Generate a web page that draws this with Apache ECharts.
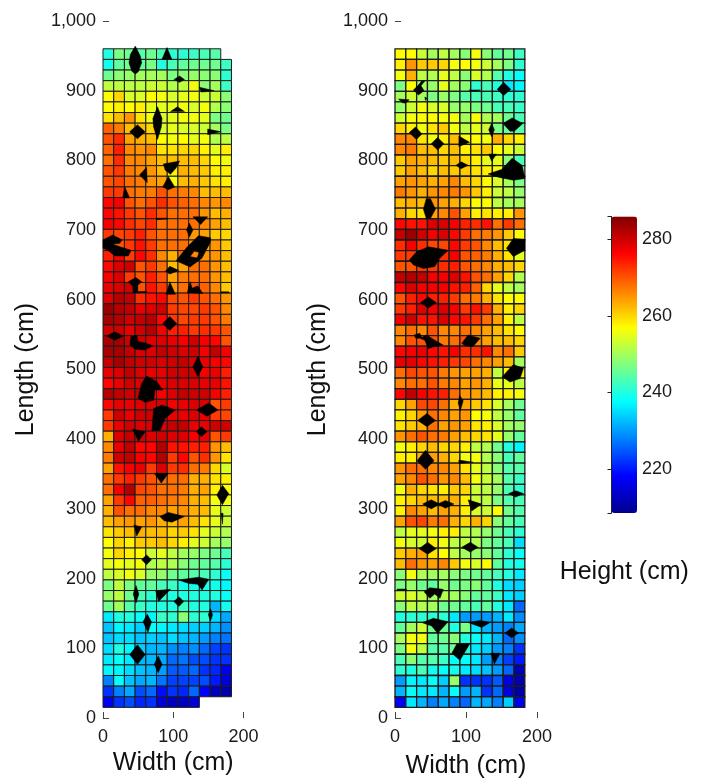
<!DOCTYPE html>
<html><head><meta charset="utf-8">
<style>html,body{margin:0;padding:0;background:#fff}#c{width:705px;height:784px}</style>
<script src="https://cdn.jsdelivr.net/npm/echarts@6/dist/echarts.min.js"></script>
</head><body><div id="c"></div>
<script>
const cellCm = 15.24;
const tickLabelsHeight = [220, 240, 260, 280];
const heightMin = 208.5, heightMax = 286;
const jetColors = ['#00008f','#0000ff','#0080ff','#00ffff','#80ff80','#ffff00','#ff8000','#ff0000','#800000'];

// heights, rows listed from the far end (top) to the near end (bottom), 12 columns
const leftHeights = [
[240,247,246,244,246,243,241,241,242,243,244,null],
[239,245,246,245,247,240,243,245,246,246,246,242],
[246,248,249,250,250,250,247,248,249,248,248,241],
[252,252,252,252,253,253,251,252,256,248,250,242],
[257,260,254,254,257,256,254,255,256,253,253,248],
[257,258,257,258,255,255,255,256,254,256,251,248],
[259,262,265,259,256,254,255,256,256,255,247,246],
[269,267,262,262,260,254,255,254,254,253,250,247],
[270,273,264,263,262,257,256,257,255,256,251,252],
[269,274,266,265,266,259,259,260,260,258,255,258],
[268,273,266,266,264,262,262,262,262,260,257,256],
[270,272,267,266,265,262,258,263,262,261,258,258],
[270,271,268,267,265,264,256,262,263,261,259,258],
[272,272,268,267,267,270,268,267,266,262,262,262],
[276,277,270,268,270,273,270,269,268,266,265,266],
[276,275,272,270,273,270,268,268,268,265,262,263],
[277,276,273,271,273,268,268,268,268,266,264,262],
[272,271,272,274,270,268,268,268,265,264,261,260],
[272,270,272,275,272,268,268,268,265,263,265,261],
[274,277,272,276,273,266,263,268,266,265,265,262],
[276,279,280,270,272,268,262,264,268,268,265,262],
[277,279,272,270,274,270,264,267,268,268,265,262],
[278,279,280,270,275,272,265,268,270,269,266,261],
[279,282,281,273,275,276,271,270,272,270,268,265],
[284,282,281,278,279,280,272,271,271,272,270,266],
[283,282,280,281,282,276,272,271,272,272,270,267],
[280,280,278,280,282,277,274,274,272,273,272,270],
[283,283,280,280,279,279,278,277,280,277,276,270],
[283,283,281,279,279,281,280,279,280,277,281,277],
[281,283,281,280,280,279,280,281,279,278,277,276],
[278,279,281,279,278,278,280,280,280,277,278,274],
[276,278,280,279,280,278,279,279,279,278,278,275],
[282,281,280,281,278,277,279,281,280,280,277,274],
[276,278,278,279,279,279,277,278,279,279,270,272],
[272,280,278,280,280,278,278,278,279,278,272,271],
[272,278,280,279,279,279,281,281,278,278,280,280],
[263,279,281,280,279,280,279,279,277,278,270,272],
[266,278,281,276,276,282,275,275,274,274,265,262],
[267,280,281,277,276,282,272,276,270,273,265,259],
[264,275,277,278,272,279,272,273,268,267,260,254],
[268,272,274,272,270,268,268,268,263,263,259,258],
[268,277,282,271,270,268,268,267,263,264,258,257],
[264,272,276,269,269,268,267,266,263,262,256,256],
[263,270,268,268,266,266,264,265,263,262,255,253],
[262,264,265,264,265,263,262,264,262,259,255,253],
[259,261,262,263,262,262,260,261,259,255,253,251],
[257,260,258,261,261,262,260,258,255,253,250,249],
[256,260,258,257,253,255,252,250,249,247,246,243],
[255,256,255,256,251,252,251,248,246,245,244,241],
[252,254,256,254,249,249,246,245,244,243,241,238],
[247,252,247,245,245,243,242,239,239,240,239,237],
[249,252,246,243,241,241,240,240,240,240,240,238],
[246,250,244,242,240,240,240,242,240,240,232,239],
[236,240,240,238,237,242,241,248,241,241,235,231],
[233,237,236,234,238,237,236,235,234,234,232,229],
[233,235,235,233,234,233,235,233,232,230,228,227],
[235,240,237,234,232,232,229,228,229,226,223,222],
[236,238,236,232,232,231,226,227,224,224,222,222],
[237,237,235,233,232,230,225,225,226,222,221,217],
[228,238,233,231,232,227,223,223,223,224,220,215],
[222,228,231,224,226,219,222,221,226,218,212,211],
[217,222,224,221,222,215,213,213,215,null,null,null]
];
const rightHeights = [
[257,257,253,250,252,250,248,256,248,245,246,242],
[258,265,261,261,260,256,257,256,253,250,247,241],
[256,263,252,251,255,252,248,254,251,244,240,238],
[247,257,250,249,255,250,248,241,243,240,236,237],
[250,253,250,247,249,247,244,243,243,242,241,241],
[249,253,256,254,254,249,249,247,246,243,243,242],
[253,256,257,257,256,256,250,256,251,250,246,243],
[260,258,256,259,261,256,252,255,253,247,245,244],
[266,266,259,256,258,262,256,257,256,263,260,258],
[266,267,262,262,260,262,258,259,261,257,255,253],
[261,264,263,262,261,262,260,258,255,255,248,243],
[261,264,262,260,262,261,261,259,258,256,250,245],
[264,265,264,263,264,266,262,260,257,254,250,247],
[267,265,263,265,266,267,265,261,258,253,252,249],
[262,263,262,265,264,263,260,257,257,252,250,250],
[263,260,259,264,266,270,264,258,259,258,258,265],
[276,275,275,279,279,277,274,273,275,268,272,268],
[281,284,280,277,279,276,272,268,267,265,261,257],
[273,277,273,271,271,276,272,270,266,262,259,254],
[272,272,274,272,273,277,270,269,267,263,259,255],
[270,270,272,272,273,274,270,268,266,263,262,260],
[281,282,281,277,277,279,275,270,268,264,260,251],
[276,279,277,277,277,275,274,269,260,255,252,250],
[270,274,276,274,274,272,268,267,263,259,257,257],
[272,274,279,277,279,277,272,275,272,263,258,260],
[277,280,275,275,279,276,275,272,268,264,258,252],
[266,268,266,270,266,266,268,266,264,262,259,257],
[266,270,270,270,267,268,270,266,264,262,262,260],
[276,277,278,276,275,277,273,273,275,266,268,261],
[278,278,276,275,274,272,271,268,266,264,262,250],
[268,271,270,270,267,265,264,264,263,252,258,258],
[266,268,268,270,267,266,264,265,263,255,255,252],
[276,281,277,275,274,268,265,264,262,258,258,256],
[260,264,271,271,268,263,264,261,259,254,250,246],
[258,260,264,268,266,264,265,257,256,252,249,245],
[259,261,263,268,264,265,264,259,258,254,250,249],
[265,268,270,268,267,264,262,260,259,255,249,245],
[256,258,260,262,260,260,258,252,251,246,240,237],
[258,258,263,264,263,260,256,256,251,248,243,245],
[265,268,268,266,266,264,259,255,252,248,244,244],
[264,266,270,268,265,266,262,256,253,250,244,242],
[256,263,260,259,258,261,260,253,252,249,243,241],
[258,260,262,262,262,263,258,253,252,247,244,243],
[258,266,264,262,264,263,258,254,253,257,246,244],
[264,270,271,267,268,263,260,263,260,248,245,243],
[252,255,255,256,258,258,252,251,249,246,243,241],
[256,254,253,258,256,252,252,251,247,245,243,235],
[261,263,264,259,257,252,250,249,248,245,241,238],
[262,268,265,264,266,261,256,254,257,245,240,239],
[248,256,251,250,250,248,247,246,245,243,240,236],
[247,249,246,245,249,246,247,248,245,240,235,234],
[253,254,252,250,251,250,248,245,245,242,236,234],
[248,252,251,250,246,246,245,243,245,240,236,226],
[240,241,241,241,241,236,230,230,230,232,236,229],
[245,250,253,246,246,240,247,236,232,230,228,231],
[250,256,256,245,246,248,240,238,236,232,226,229],
[247,256,252,244,244,246,240,236,234,230,228,222],
[243,248,244,244,242,238,238,236,230,228,223,220],
[241,240,243,239,238,239,236,235,233,230,226,212],
[230,237,236,238,234,249,222,222,222,225,216,211],
[232,238,236,236,232,238,230,232,222,226,215,210],
[218,236,232,228,231,228,226,232,231,228,234,217]
];
// black gaps, outlines in cm (width, length)
const leftGaps = [
[[46,964],[53,950],[55,940],[50,927],[46,924],[41,928],[37,940],[39,952]],
[[91,962],[98,945],[84,945]],
[[101,916],[109,921],[116,916],[109,912]],
[[137,905],[158,900],[140,898]],
[[96,870],[106,877],[116,870]],
[[77.6,877],[84,860],[83,848],[77.6,830],[72,848],[71,860]],
[[38,841],[49,851],[60,841],[49,831]],
[[149,845],[168,841],[149,837]],
[[86,795],[109,799],[104,789],[96,780],[88.6,786]],
[[93,777],[102,762],[93,758],[85,762]],
[[52,779],[62,790],[63,768]],
[[31,762],[38,746],[28,746]],
[[128,719],[149,719],[139,708]],
[[76,717],[92,717],[92,716],[76,715]],
[[123,710],[128,700],[123,690],[119,700]],
[[0,686],[14,693],[27,686],[24,681],[13,680],[24,676],[40,671],[36,663],[17,663],[7,671],[0,674]],
[[104,656],[124,647],[141,660],[134,660],[124,662],[130,670],[137,668],[134,660],[141,660],[153,683],[153,689],[136,692],[120,676]],
[[89,641],[95,648],[108,642],[95,637]],
[[36,626],[46.7,632],[55,626],[49.5,621],[49.5,612],[62,612],[62,610.6],[43,610],[42,620]],
[[95,626],[103,608],[90,608]],
[[120,610],[124,626],[127,616.5],[135,620],[142,609]],
[[168,611.5],[179,611.5],[179,610],[168,610]],
[[85,566],[95,576],[105,566],[95,556]],
[[5,548],[17,554],[29,548],[17,542]],
[[39.5,547],[48,549],[50,540],[60,538],[71,534],[60,528],[46,529],[38.5,535]],
[[128,504],[135,519],[142,504],[135,490]],
[[62,490.6],[76.7,482.5],[85,470.6],[74,470.6],[72,456],[60,453],[50,458.7],[55,480]],
[[72,444],[84,449],[103,442],[88.6,430],[81.4,413],[69.6,412]],
[[133,442],[150.5,452],[163.8,442],[148,433]],
[[42,414.6],[60,410.7],[50.5,397]],
[[133,410.7],[140,418],[148,410.7],[140,403.6]],
[[73,351],[93,351],[83,337]],
[[162,320],[170,334],[179,322],[170,306]],
[[81,289],[93,295],[116,289],[98,281],[87,283]],
[[168,293.6],[171,293.6],[170,278]],
[[44,277],[55,274],[48,261]],
[[55,227],[62,234],[69,227],[62,220]],
[[107.6,198],[136,202],[150.5,199],[141,183.6],[134.8,192],[122,193]],
[[43,178],[47,190],[51,178],[47,165]],
[[75,182.7],[96,184.6],[79,167]],
[[101,167],[108,174],[115,167],[108,160]],
[[150,148],[153,157],[156,148],[153,139]],
[[57,138],[63,149],[69,138],[64,123]],
[[38,91],[49,105],[60,91],[49,77]],
[[73,77],[78.6,89],[84,77],[78.6,65]]
];
const rightGaps = [
[[26,901],[33,908],[37.6,914],[42,914],[36.6,907],[41,900],[33,894]],
[[144,902],[153,912],[163,902],[153,893]],
[[5,888],[20,887],[15,882],[10,883]],
[[42,891],[45,889],[43,886]],
[[104,901],[120,901],[112,899]],
[[152,853],[165,861],[180,853],[168,842],[162,842]],
[[20,840],[29,848],[38,838],[30,830]],
[[132,844],[136,853],[140,844],[136,834]],
[[51,824],[60,833],[69,824],[60,815]],
[[90,835],[105,826],[90,820]],
[[132,809],[143,809],[136,799]],
[[86,793],[93,798],[103,793],[93,788]],
[[131,780.5],[150,787],[165,803],[179,793],[183,774],[166.7,771.6],[145.5,776]],
[[44,745],[50,745],[57,730],[50,717],[44,717],[40,730]],
[[20,657],[30.5,669],[47,676],[75,671],[63,659.5],[56,647.6],[40,645],[26,650]],
[[157,674],[166.7,688],[183,687],[183,671],[166.7,662]],
[[36,596],[47,604],[58,596],[47,588]],
[[27,549.5],[35,552],[37.6,546],[44.6,549.5],[56,542],[68,535],[56,533],[47,530],[42,542],[35,545],[29,545]],
[[94,537.5],[103,549.5],[120,545],[110,533],[98.6,534]],
[[151,489.7],[166.7,507],[181,501.7],[176,487],[162,482]],
[[89,452],[91,463],[96,455],[92,441]],
[[32,427],[45,437],[57,427],[45,418]],
[[31,369],[43,384],[55,369],[43,357]],
[[90,370],[110,367],[90,365]],
[[160,322],[170,326],[181,322],[170,317]],
[[39,307],[51,313],[63,307],[51,300]],
[[60,307],[71,312],[83,307],[71,301]],
[[103,313],[122,307],[108,297]],
[[34,243],[46,252],[58,243],[46,235]],
[[94,245],[106,252],[117,245],[106,238]],
[[3,185],[16,185],[16,183.5],[3,183.5]],
[[41,181],[49,187],[68,184.6],[63.4,171.7],[56,178],[49,171.7]],
[[38.5,136.7],[54,143],[75,138],[60,121.5],[51.7,132]],
[[103,137],[120,140],[134,137],[122,130]],
[[155,122],[164,129],[174,122],[164,115]],
[[87,106],[105.6,107],[91.5,83],[80,93]],
[[135,93],[148,93],[140,77.5]]
];

const FONT = '"Liberation Sans", Arial, sans-serif';
function toCells(rows){
  const out = [];
  rows.forEach((row, r) => row.forEach((v, c) => {
    if (v !== null) out.push([c * cellCm, (rows.length - r) * cellCm, v]);
  }));
  return out;
}
function cellSeries(idx, rows, borderW){
  return {
    type:'custom', xAxisIndex:idx, yAxisIndex:idx, data:toCells(rows),
    encode:{x:0,y:1}, z:2, silent:true, clip:false,
    renderItem(params, api){
      const x = api.value(0), y = api.value(1);
      const a = api.coord([x, y + cellCm]), b = api.coord([x + cellCm, y]);
      return {type:'rect', shape:{x:a[0], y:a[1], width:b[0]-a[0], height:b[1]-a[1]},
        style:{fill:api.visual('color'), stroke:'#1c1c1c', lineWidth:borderW}};
    }
  };
}
function gapSeries(idx, gaps){
  return {
    type:'custom', xAxisIndex:idx, yAxisIndex:idx, data:gaps.map((g,i)=>[g[0][0], g[0][1], i]),
    encode:{x:0,y:1}, z:3, silent:true, clip:false,
    renderItem(params, api){
      const pts = gaps[params.dataIndex].map(p => api.coord(p));
      return {type:'polygon', shape:{points:pts}, style:{fill:'#000', stroke:'#000', lineWidth:0.5}};
    }
  };
}
const labelStyle = {color:'#1a1a1a', fontFamily:FONT, fontSize:18};
const nameStyle = {color:'#111', fontFamily:FONT, fontSize:25};
function xA(idx, gap){
  return {gridIndex:idx, type:'value', min:0, max:200, interval:100, name:'Width (cm)', nameLocation:'middle', nameGap:gap,
    nameTextStyle:nameStyle, axisLine:{show:false}, splitLine:{show:false},
    axisTick:{show:true, inside:true, length:6, lineStyle:{color:'#444'}},
    axisLabel:{...labelStyle, margin:10}};
}
function yA(idx){
  return {gridIndex:idx, type:'value', min:0, max:1000, interval:100, name:'Length (cm)', nameLocation:'middle', nameGap:64, nameRotate:90,
    nameTextStyle:nameStyle, axisLine:{show:false}, splitLine:{show:false},
    axisTick:{show:true, inside:true, length:6, lineStyle:{color:'#444'}},
    axisLabel:{...labelStyle, margin:7}};
}
const chart = echarts.init(document.getElementById('c'), null, {renderer:'canvas'});
chart.setOption({
  animation:false, backgroundColor:'#fff',
  grid:[
    {left:103, top:21, width:140.5, height:697},
    {left:395, top:21, width:142, height:697},
    {left:611.5, top:216.5, width:25.5, height:296.5, show:false}
  ],
  xAxis:[xA(0,32), xA(1,36),
    {gridIndex:2, type:'value', min:0, max:1, name:'Height (cm)', nameLocation:'middle', nameGap:47,
     nameTextStyle:nameStyle, axisLine:{show:false}, axisTick:{show:false}, axisLabel:{show:false}, splitLine:{show:false}}
  ],
  yAxis:[yA(0), yA(1),
    {gridIndex:2, type:'value', min:heightMin, max:heightMax, position:'right', z:6,
     axisLine:{show:true, lineStyle:{color:'#222'}}, splitLine:{show:false},
     axisTick:{show:true, inside:true, length:4, lineStyle:{color:'#222'}},
     axisLabel:{...labelStyle, margin:5, customValues:tickLabelsHeight},
     customValues:tickLabelsHeight,
     axisTickCustom:null}
  ],
  visualMap:{
    type:'continuous', min:heightMin, max:heightMax, dimension:2, seriesIndex:[0,2],
    left:611.5, top:216.5, itemWidth:25.5, itemHeight:296.5, padding:0, text:null, showLabel:false, calculable:false,
    realtime:false, hoverLink:false, inRange:{color:jetColors}, textStyle:{fontSize:0}, borderWidth:0, z:4
  },
  series:[cellSeries(0,leftHeights,1), gapSeries(0,leftGaps), cellSeries(1,rightHeights,1.3), gapSeries(1,rightGaps)]
});
</script></body></html>
